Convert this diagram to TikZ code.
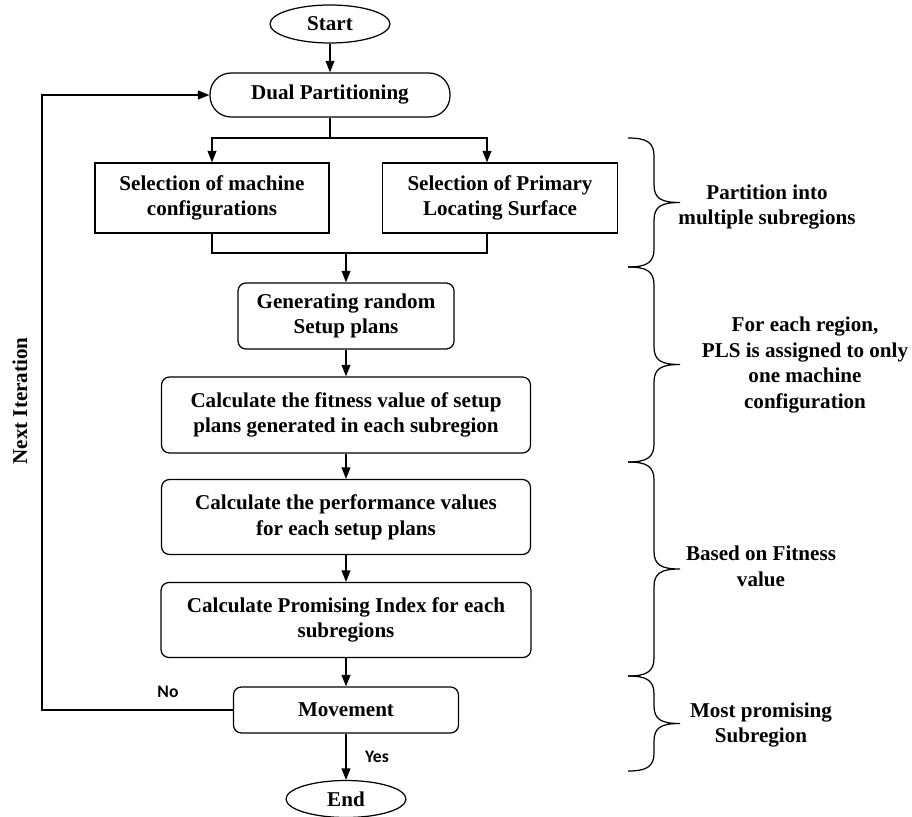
\documentclass[tikz,border=0pt]{standalone}
\usepackage{fontspec}
\setmainfont{Liberation Serif}
\newfontfamily\labelfont{Carlito}
\usetikzlibrary{shapes.geometric,arrows.meta}

\tikzset{
  box/.style={draw, rectangle, line width=0.7pt, align=center, inner sep=2pt, font=\fontsize{12}{14.6}\selectfont\bfseries},
  terminal/.style={box, ellipse, inner sep=0pt},
  roundbox/.style={box, rounded corners=4.5pt},
  bracetext/.style={align=center, font=\fontsize{12}{14.6}\selectfont\bfseries},
  yesno/.style={font=\labelfont\fontsize{10}{12}\selectfont\bfseries},
  arrow/.style={-{Triangle[length=6.5pt,width=5pt]}, line width=0.7pt},
  line/.style={line width=0.7pt}
}

\begin{document}
\begin{tikzpicture}[x=0.02cm, y=-0.02cm]
        \useasboundingbox (0,0) rectangle (912,817);

        % Start
        \node[terminal, minimum width=2.4cm, minimum height=0.76cm] (start) at (330,24) {Start};

        % Dual partitioning
        \node[box, rounded corners=12pt, minimum width=4.8cm, minimum height=0.88cm] (dual) at (330,95) {Dual Partitioning};
        \draw[arrow] (start) -- (dual);

        % Two selections
        \node[box, minimum width=4.68cm, minimum height=1.4cm] (selmc) at (212,198) {Selection of machine\\configurations};
        \node[box, minimum width=4.7cm, minimum height=1.4cm] (selpls) at (500,198) {Selection of Primary\\Locating Surface};
        \coordinate (split) at (330,138);
        \coordinate (join) at (346,253);
        \draw[line] (dual) -- (split);
        \draw[arrow] (split) -| (selmc.north);
        \draw[arrow] (split) -| ([xshift=-0.26cm]selpls.north);
        \draw[line] (selmc.south) |- (join);
        \draw[line] ([xshift=-0.26cm]selpls.south) |- (join);

        % Setup plans
        \node[roundbox, minimum width=4.32cm, minimum height=1.32cm] (gen) at (346,316) {Generating random\\Setup plans};
        \draw[arrow] (join) -- (gen);
        \node[roundbox, minimum width=7.38cm, minimum height=1.52cm] (fit) at (346,415) {Calculate the fitness value of setup\\plans generated in each subregion};
        \draw[arrow] (gen) -- (fit);

        % Performance and index
        \node[roundbox, minimum width=7.38cm, minimum height=1.5cm] (perf) at (346,517) {Calculate the performance values\\for each setup plans};
        \draw[arrow] (fit) -- (perf);
        \node[roundbox, minimum width=7.4cm, minimum height=1.5cm] (prom) at (346,620) {Calculate Promising Index for each\\subregions};
        \draw[arrow] (perf) -- (prom);

        % Movement
        \node[roundbox, minimum width=4.5cm, minimum height=0.92cm] (move) at (346,710) {Movement};
        \draw[arrow] (prom) -- (move);

        % End
        \node[terminal, minimum width=2.4cm, minimum height=0.74cm] (end) at (346,799) {End};
        \draw[arrow] (move) -- (end);
        \node[yesno] (yes) at (377,757) {Yes};

        % Loop back
        \coordinate (back) at (42,710);
        \draw[arrow] (move.west) -- (back) |- (dual.west);
        \node[yesno] (no) at (168,692) {No};
        \node[bracetext, rotate=90] (next) at (20,401) {Next Iteration};

        % Braces on the right
        \foreach \ta/\tb in {138/267, 267/462, 462/676, 676/771}{
          \pgfmathsetmacro\tm{(\ta+\tb)/2}
          \draw[line] (628,\ta) .. controls (646,\ta) and (654,\ta+4) .. (654,\ta+18)
            -- (654,\tm-18) .. controls (654,\tm-4) and (661,\tm) .. (680,\tm)
            .. controls (661,\tm) and (654,\tm+4) .. (654,\tm+18)
            -- (654,\tb-18) .. controls (654,\tb-4) and (646,\tb) .. (628,\tb);
        }
        \node[bracetext] (part) at (767,207) {Partition into\\multiple subregions};
        \node[bracetext] (assign) at (805,365) {For each region,\\PLS is assigned to only\\one machine\\configuration};
        \node[bracetext] (based) at (761,566) {Based on Fitness\\value};
        \node[bracetext] (most) at (761,725) {Most promising\\Subregion};

    \end{tikzpicture}
\end{document}
